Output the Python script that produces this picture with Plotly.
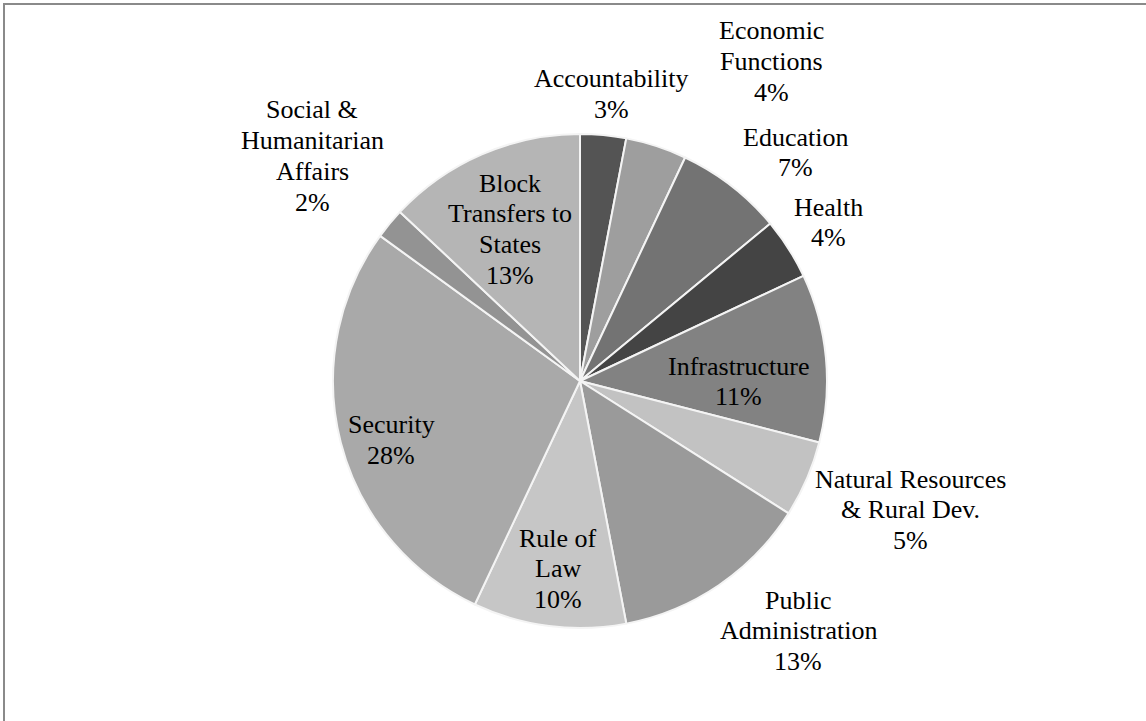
import plotly.graph_objects as go

# Budget shares by sector (percent), clockwise from 12 o'clock
categories = [
    "Accountability", "Economic Functions", "Education", "Health",
    "Infrastructure", "Natural Resources & Rural Dev.", "Public Administration",
    "Rule of Law", "Security", "Social & Humanitarian Affairs",
    "Block Transfers to States",
]
shares = [3, 4, 7, 4, 11, 5, 13, 10, 28, 2, 13]

# How each category name is wrapped on the chart
label_lines = [
    ["Accountability"],
    ["Economic", "Functions"],
    ["Education"],
    ["Health"],
    ["Infrastructure"],
    ["Natural Resources", "& Rural Dev."],
    ["Public", "Administration"],
    ["Rule of", "Law"],
    ["Security"],
    ["Social &", "Humanitarian", "Affairs"],
    ["Block", "Transfers to", "States"],
]

slice_colors = [
    "#545454", "#9e9e9e", "#737373", "#444444", "#828282", "#c2c2c2",
    "#9a9a9a", "#c6c6c6", "#a9a9a9", "#939393", "#b5b5b5",
]

# Label block placement in page pixels: centre x, centre y of the first line
label_pos = [
    (611, 79), (771, 31), (795, 137), (828, 207), (738, 366), (910, 479),
    (798, 600), (558, 538), (391, 425), (312, 110), (510, 183),
]

W, H = 1146, 721
CX, CY, R = 580, 381, 247
LINE_STEP = 30.7

fig = go.Figure()

fig.add_trace(go.Pie(
    labels=categories,
    values=shares,
    sort=False,
    direction="clockwise",
    rotation=0,
    marker=dict(colors=slice_colors, line=dict(color="#f4f4f4", width=2)),
    textinfo="none",
    hoverinfo="label+percent",
    showlegend=False,
    domain=dict(x=[(CX - R) / W, (CX + R) / W],
                y=[(H - CY - R) / H, (H - CY + R) / H]),
))

annotations = []
for lines, val, (px, py) in zip(label_lines, shares, label_pos):
    for i, txt in enumerate(lines + [f"{val}%"]):
        annotations.append(dict(
            x=px / W, y=1 - (py + i * LINE_STEP) / H,
            xref="paper", yref="paper",
            text=txt, showarrow=False,
            xanchor="center", yanchor="middle",
            font=dict(family="Liberation Serif", size=26, color="#000000"),
        ))

# Frame lines along the top and left edges
shapes = [
    dict(type="line", xref="paper", yref="paper",
         x0=3 / W, x1=1, y0=1 - 4 / H, y1=1 - 4 / H,
         line=dict(color="#8a8a8a", width=2)),
    dict(type="line", xref="paper", yref="paper",
         x0=4 / W, x1=4 / W, y0=0, y1=1 - 3 / H,
         line=dict(color="#8a8a8a", width=2)),
]

fig.update_layout(
    width=W, height=H,
    margin=dict(l=0, r=0, t=0, b=0),
    paper_bgcolor="white",
    plot_bgcolor="white",
    annotations=annotations,
    shapes=shapes,
)

fig.write_html("out.html")
